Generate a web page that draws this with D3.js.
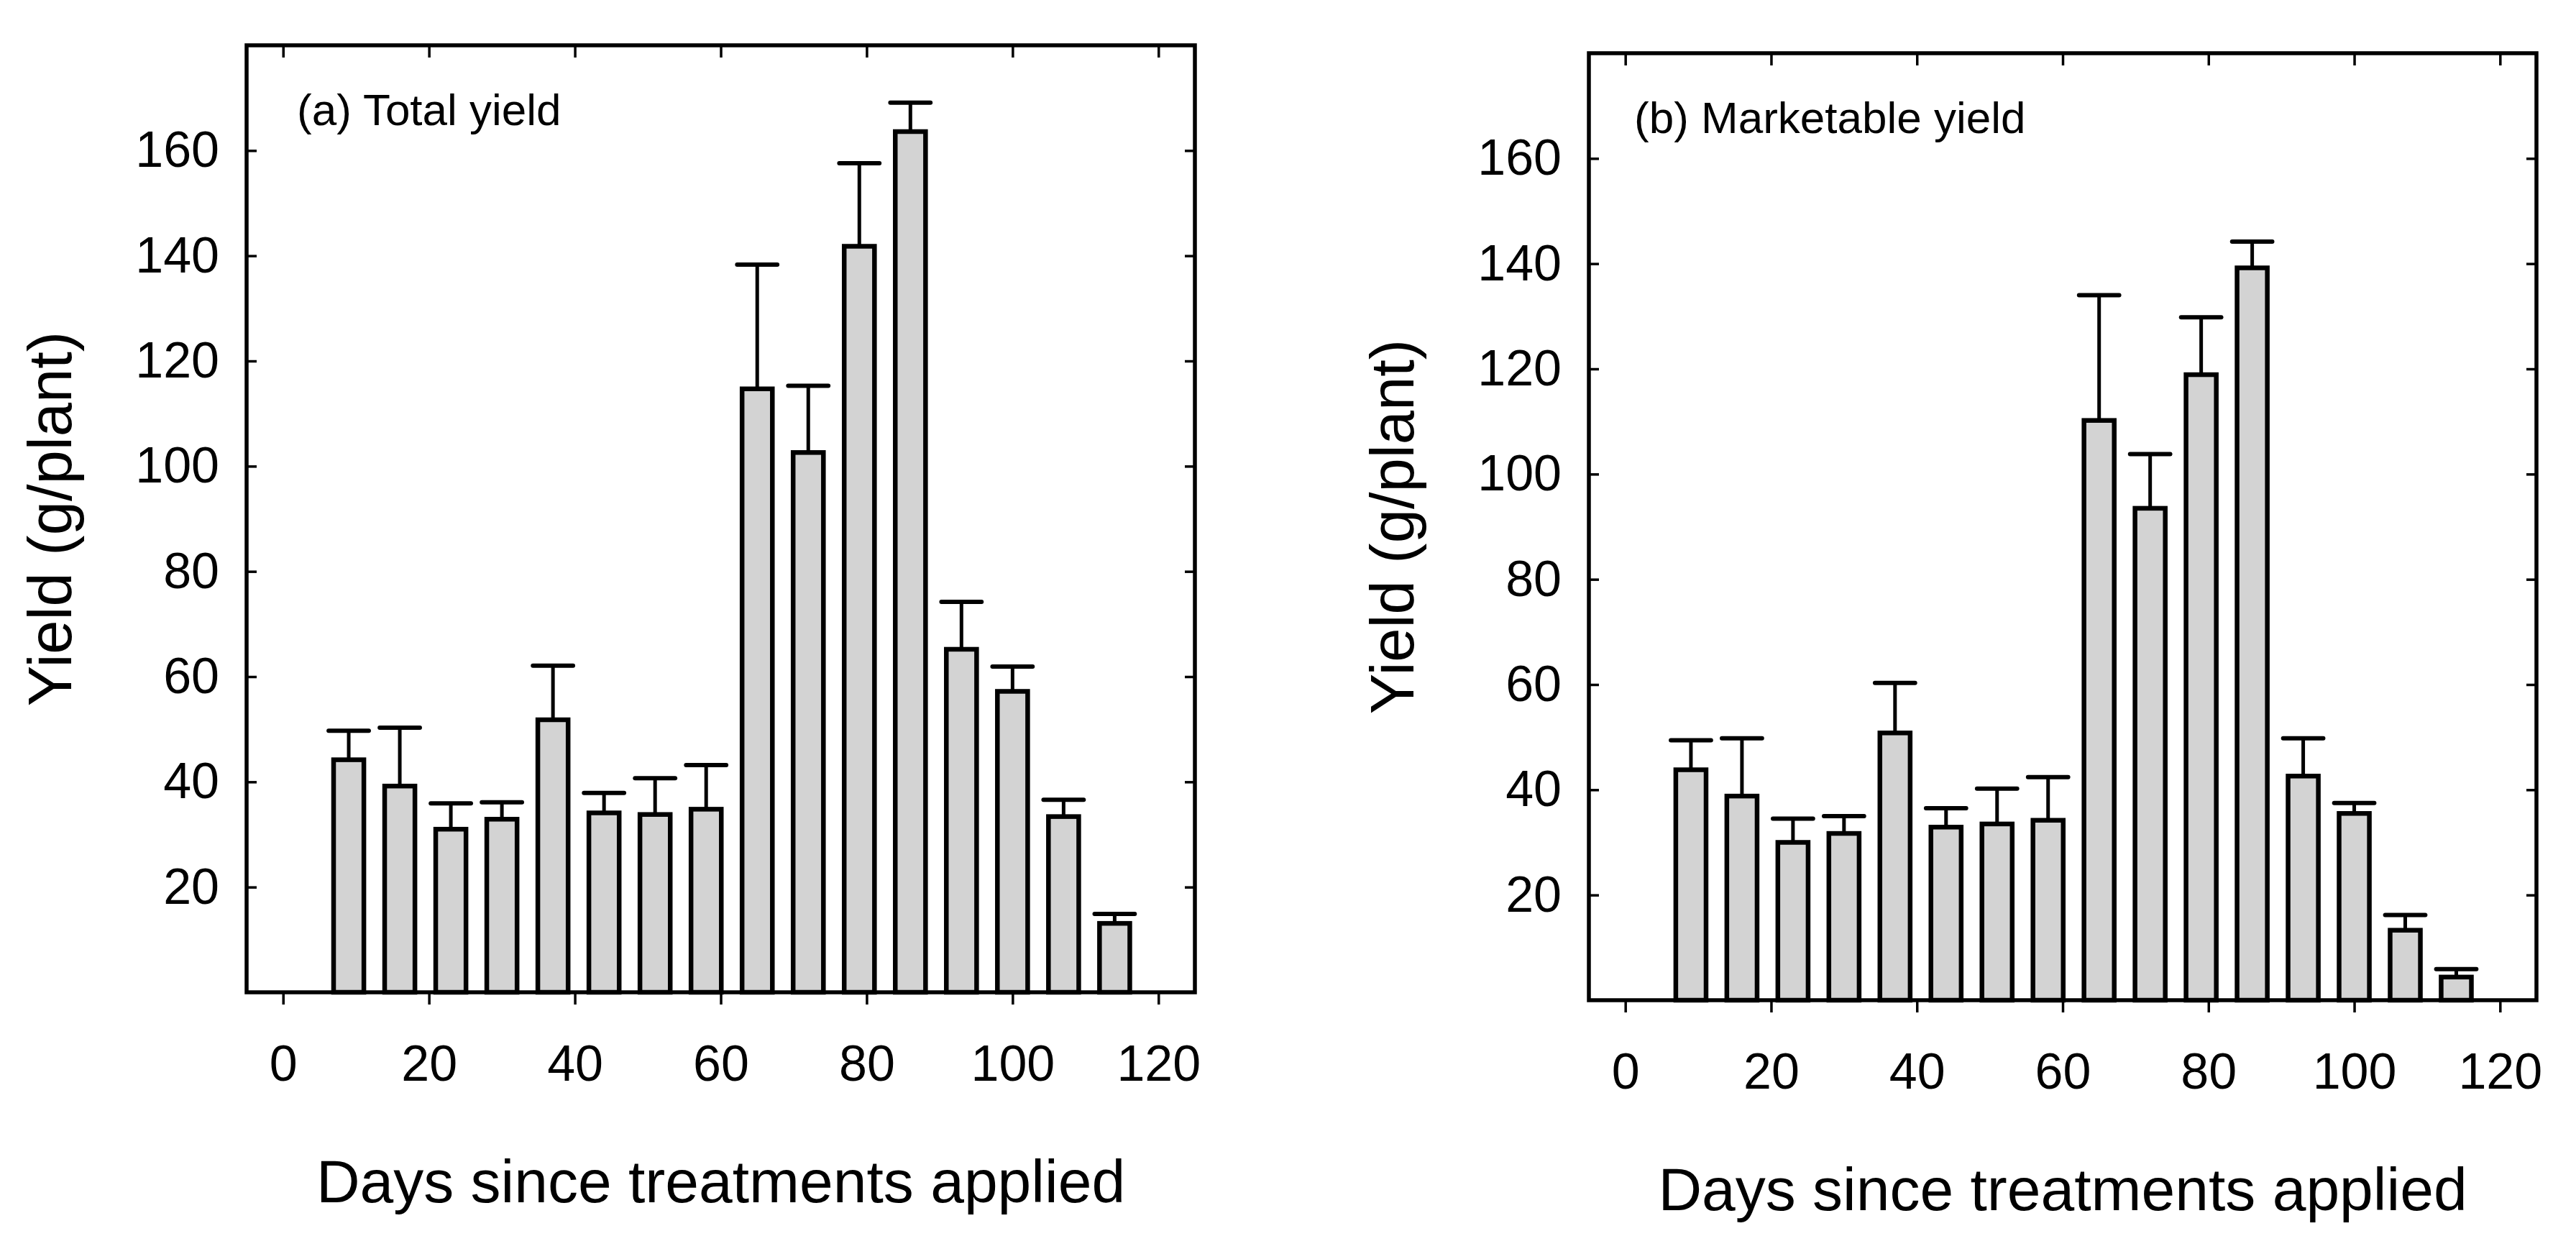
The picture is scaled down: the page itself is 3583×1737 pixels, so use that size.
<!DOCTYPE html>
<html>
<head>
<meta charset="utf-8">
<script src="https://cdn.jsdelivr.net/npm/d3@7"></script>
<style>
  body { margin: 0; background: #fff; }
  svg { display: block; font-family: "Liberation Sans", Arial, sans-serif; }
</style>
</head>
<body>
<svg id="chart"></svg>
<script>
// days since treatments applied (bar centres)
const days = [9, 16, 23, 30, 37, 44, 51, 58, 65, 72, 79, 86, 93, 100, 107, 114];

// (a) total yield, g/plant, and the upper error bar length
const totalYield = [44.2, 39.2, 31.0, 32.9, 51.8, 34.1, 33.8, 34.8, 114.7, 102.6, 141.8, 163.6, 65.2, 57.2, 33.4, 13.1];
const totalErr   = [5.5, 11.1, 4.9, 3.2, 10.3, 3.8, 6.9, 8.4, 23.6, 12.7, 15.8, 5.5, 9.0, 4.7, 3.2, 1.8];

// (b) marketable yield, g/plant
const marketYield = [43.8, 38.8, 30.0, 31.7, 50.8, 32.9, 33.5, 34.2, 110.2, 93.5, 118.9, 139.2, 42.6, 35.5, 13.3, 4.4];
const marketErr   = [5.6, 11.0, 4.5, 3.3, 9.5, 3.6, 6.7, 8.2, 23.8, 10.3, 10.9, 5.0, 7.2, 2.0, 2.9, 1.5];

const xTicks = [0, 20, 40, 60, 80, 100, 120];
const yTicks = [20, 40, 60, 80, 100, 120, 140, 160];

const panelTitles = ['(a) Total yield', '(b) Marketable yield'];
const xTitle = 'Days since treatments applied';
const yTitle = 'Yield (g/plant)';

const W = 3583, H = 1737;
const svg = d3.select('#chart').attr('width', W).attr('height', H);

const barW = 4.15;   // in days
const capW = 5.5;

function drawPanel(left, top, w, h, values, errs, title, titleX) {
  const x = d3.scaleLinear().domain([-5, 125]).range([0, w]);
  const y = d3.scaleLinear().domain([0, 180]).range([h, 0]);
  const g = svg.append('g').attr('transform', `translate(${left},${top})`);
  const data = days.map((d, i) => ({ day: d, v: values[i], e: errs[i] }));

  // bars
  g.selectAll('rect.bar')
    .data(data).enter()
    .append('rect')
    .attr('class', 'bar')
    .attr('x', d => x(d.day - barW / 2))
    .attr('width', x(barW) - x(0))
    .attr('y', d => y(d.v))
    .attr('height', d => y(0) - y(d.v))
    .attr('fill', '#d3d3d3')
    .attr('stroke', '#000')
    .attr('stroke-width', 6.5);

  // error bars (upper only)
  g.selectAll('line.stem')
    .data(data).enter()
    .append('line')
    .attr('class', 'stem')
    .attr('x1', d => x(d.day)).attr('x2', d => x(d.day))
    .attr('y1', d => y(d.v)).attr('y2', d => y(d.v + d.e))
    .attr('stroke', '#000')
    .attr('stroke-width', 5);
  g.selectAll('line.cap')
    .data(data).enter()
    .append('line')
    .attr('class', 'cap')
    .attr('x1', d => x(d.day - capW / 2)).attr('x2', d => x(d.day + capW / 2))
    .attr('y1', d => y(d.v + d.e)).attr('y2', d => y(d.v + d.e))
    .attr('stroke', '#000')
    .attr('stroke-width', 6)
    .attr('stroke-linecap', 'round');

  // axes
  const bottom = g.append('g').attr('transform', `translate(0,${h})`)
    .call(d3.axisBottom(x).tickValues(xTicks).tickSize(17).tickPadding(56).tickSizeOuter(0));
  const topAx = g.append('g')
    .call(d3.axisTop(x).tickValues(xTicks).tickSize(-17).tickFormat('').tickSizeOuter(0));
  const leftAx = g.append('g')
    .call(d3.axisLeft(y).tickValues(yTicks).tickSize(-14).tickPadding(38).tickSizeOuter(0));
  const rightAx = g.append('g').attr('transform', `translate(${w},0)`)
    .call(d3.axisRight(y).tickValues(yTicks).tickSize(-14).tickFormat('').tickSizeOuter(0));

  [bottom, topAx, leftAx, rightAx].forEach(a => {
    a.select('.domain').remove();
    a.selectAll('.tick line').attr('stroke', '#000').attr('stroke-width', 3.5);
    a.selectAll('.tick text')
      .attr('fill', '#000')
      .style('font-size', '70px')
      .style('font-family', '"Liberation Sans", Arial, sans-serif');
  });

  // frame
  g.append('rect')
    .attr('width', w).attr('height', h)
    .attr('fill', 'none')
    .attr('stroke', '#000')
    .attr('stroke-width', 5.5);

  // panel title
  g.append('text')
    .attr('x', titleX).attr('y', 111)
    .style('font-size', '62px')
    .text(title);

  // axis titles
  g.append('text')
    .attr('x', w / 2).attr('y', h + 292)
    .attr('text-anchor', 'middle')
    .style('font-size', '84px')
    .text(xTitle);
  g.append('text')
    .attr('transform', `translate(-244,${h / 2}) rotate(-90)`)
    .attr('text-anchor', 'middle')
    .style('font-size', '85px')
    .text(yTitle);
}

drawPanel(343, 63, 1319, 1317, totalYield, totalErr, panelTitles[0], 70);
drawPanel(2210, 74, 1318, 1317, marketYield, marketErr, panelTitles[1], 63);
</script>
</body>
</html>
